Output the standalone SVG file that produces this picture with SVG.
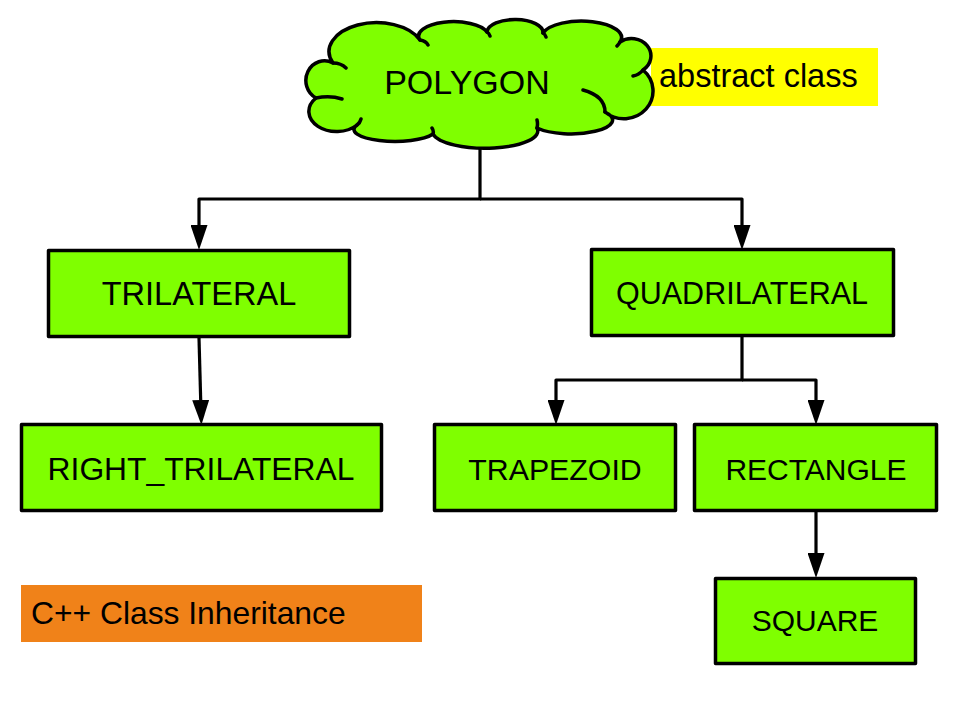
<svg xmlns="http://www.w3.org/2000/svg" width="960" height="720" viewBox="0 0 960 720">
  <style>
    .box { fill: #7FFF00; stroke: #000; stroke-width: 3.5; stroke-linejoin: round; }
    .lbl { font-family: "Liberation Sans", Arial, sans-serif; fill: #000; }
    .mid { text-anchor: middle; }
    .wire { fill: none; stroke: #000; stroke-width: 3.2; stroke-linejoin: round; }
    .stub { fill: none; stroke: #000; stroke-width: 3.5; stroke-linecap: round; }
  </style>
  <defs>
    <marker id="arrow" markerUnits="userSpaceOnUse" viewBox="0 0 25 17" refX="0" refY="8.5" markerWidth="25" markerHeight="17" orient="auto">
      <path d="M0,0 L25,8.5 L0,17 Z" fill="#000"/>
    </marker>
  </defs>

  <rect x="0" y="0" width="960" height="720" fill="#fff"/>

  <!-- side notes -->
  <g id="note-abstract">
    <rect x="651" y="48" width="227" height="58" fill="#FFFF00"/>
    <text class="lbl" x="659" y="87" font-size="32.5">abstract class</text>
  </g>
  <g id="note-title">
    <rect x="21" y="585" width="401" height="57" fill="#F08219"/>
    <text class="lbl" x="31" y="624" font-size="31.8">C++ Class Inheritance</text>
  </g>

  <!-- inheritance connectors -->
  <g id="connectors">
    <path class="wire" d="M480,140 V199 H199 V225" marker-end="url(#arrow)"/>
    <path class="wire" d="M480,199 H742 V225" marker-end="url(#arrow)"/>
    <path class="wire" d="M199,338 L200.7,400" marker-end="url(#arrow)"/>
    <path class="wire" d="M742,336 V380 H556 V400" marker-end="url(#arrow)"/>
    <path class="wire" d="M742,380 H816 V400" marker-end="url(#arrow)"/>
    <path class="wire" d="M816,511 V553" marker-end="url(#arrow)"/>
  </g>

  <g id="polygon">
    <path class="box" d="M333,63
      A46,28 0 0 1 420,40
      A34,14 0 0 1 487,32
      A28,13 0 0 1 543,33
      A39,16 0 0 1 620,42
      A19,17 0 0 1 643,70
      A23,22 0 0 1 605,112
      A36,12 0 0 1 537,128
      A52,17 0 0 1 433,134
      A38,11 0 0 1 357,125
      A22,16 0 0 1 316,98
      A18,19 0 0 1 333,63 Z"/>
    <path class="stub" d="M333,63 q8,0 13,5 M316,98 q14,-3 26,1 M420,40 q6,1 8,5 M487,32 q2,1 3,4 M543,33 q2,1 3,4 M620,42 q-1,2 -3,4 M643,70 q-4,5 -10,6 M605,112 q0,-16 -22,-22 M537,128 q1,-4 0,-8 M433,134 q1,-3 -1,-6 M357,125 q3,-2 4,-6"/>
    <text class="lbl mid" x="467" y="94" font-size="34">POLYGON</text>
  </g>

  <g id="trilateral">
    <rect class="box" x="48.5" y="250.5" width="301" height="86"/>
    <text class="lbl mid" x="199" y="305" font-size="32.5">TRILATERAL</text>
  </g>
  <g id="quadrilateral">
    <rect class="box" x="591.5" y="249.5" width="302" height="86"/>
    <text class="lbl mid" x="742" y="304" font-size="30.5">QUADRILATERAL</text>
  </g>
  <g id="right-trilateral">
    <rect class="box" x="21.5" y="424.5" width="360" height="86"/>
    <text class="lbl mid" x="201" y="480" font-size="31.8">RIGHT_TRILATERAL</text>
  </g>
  <g id="trapezoid">
    <rect class="box" x="434.5" y="424.5" width="241" height="86"/>
    <text class="lbl mid" x="555" y="480" font-size="30.3">TRAPEZOID</text>
  </g>
  <g id="rectangle">
    <rect class="box" x="694.5" y="424.5" width="242" height="86"/>
    <text class="lbl mid" x="816" y="480" font-size="30">RECTANGLE</text>
  </g>
  <g id="square">
    <rect class="box" x="715.5" y="578.5" width="200" height="85"/>
    <text class="lbl mid" x="815" y="631" font-size="30">SQUARE</text>
  </g>
</svg>
